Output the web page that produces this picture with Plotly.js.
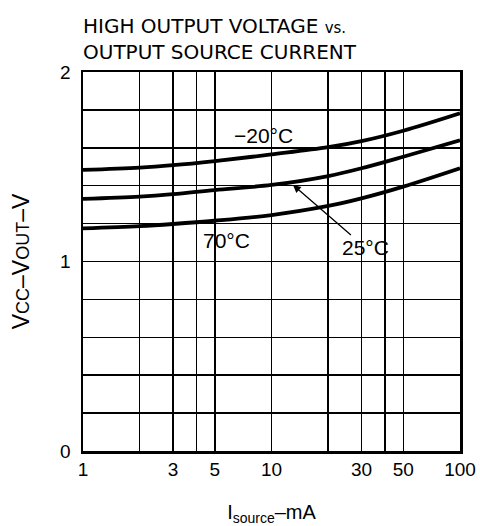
<!DOCTYPE html>
<html>
<head>
<meta charset="utf-8">
<script src="https://cdn.plot.ly/plotly-3.0.1.min.js"></script>
<style>html,body{margin:0;padding:0;background:#fff;}#chart{width:480px;height:526px;}</style>
</head>
<body>
<div id="chart"></div>
<script>
// Source current (mA)
const current = [1, 2, 3, 5, 10, 20, 30, 50, 100];
// VCC - VOUT (V) per temperature
const vMinus20 = [1.483, 1.495, 1.508, 1.530, 1.565, 1.603, 1.635, 1.69, 1.782];
const v25 = [1.330, 1.342, 1.355, 1.377, 1.404, 1.451, 1.492, 1.553, 1.64];
const v70 = [1.175, 1.187, 1.198, 1.215, 1.245, 1.293, 1.333, 1.395, 1.492];
const seriesNames = ['−20°C', '25°C', '70°C'];

const xTickVals = [1, 2, 3, 4, 5, 10, 20, 30, 40, 50, 100];
const xTickText = ['1', '', '3', '', '5', '10', '', '30', '', '50', '100'];
const yTickVals = [0, 0.2, 0.4, 0.6, 0.8, 1, 1.2, 1.4, 1.6, 1.8, 2];
const yTickText = ['0', '', '', '', '', '1', '', '', '', '', '2'];

const FONT = 'Liberation Sans, Arial, Helvetica, sans-serif';
const TFONT = 'DejaVu Sans, Liberation Sans, sans-serif';
const line = {color: '#000', width: 3.8, shape: 'spline', smoothing: 1};

const traces = [vMinus20, v25, v70].map((v, i) => ({
  x: current, y: v, name: seriesNames[i], mode: 'lines', line: line, hoverinfo: 'skip'
}));

const layout = {
  width: 480, height: 526,
  margin: {l: 83, r: 20, t: 72, b: 75},
  paper_bgcolor: '#fff', plot_bgcolor: '#fff',
  showlegend: false,
  font: {family: FONT, color: '#000', size: 17},
  title: {
    text: 'HIGH OUTPUT VOLTAGE <span style="font-size:15px">vs.</span><br>OUTPUT SOURCE CURRENT',
    x: 83 / 480, xanchor: 'left', xref: 'container',
    y: 1 - 33 / 526, yanchor: 'middle', yref: 'container',
    font: {family: TFONT, size: 20, color: '#000'}
  },
  xaxis: {
    type: 'log', range: [0, 2],
    tickmode: 'array', tickvals: xTickVals, ticktext: xTickText,
    showgrid: true, gridcolor: '#000', gridwidth: 1.5,
    showline: true, linecolor: '#000', linewidth: 2.5, mirror: true,
    ticks: '', zeroline: false,
    tickfont: {size: 19},
    title: {text: 'I<sub>source</sub>–mA', font: {size: 20}, standoff: 30}
  },
  yaxis: {
    range: [0, 2],
    tickmode: 'array', tickvals: yTickVals, ticktext: yTickText,
    showgrid: true, gridcolor: '#000', gridwidth: 1.5,
    showline: true, linecolor: '#000', linewidth: 2.5, mirror: true,
    ticks: '', zeroline: false,
    ticklabelstandoff: 6,
    tickfont: {size: 19},
    title: {text: 'V<span style="font-size:18px">CC</span>–V<span style="font-size:18px">OUT</span>–V', font: {size: 23}, standoff: 24}
  },
  annotations: [
    {x: Math.log10(9.05), y: 1.667, xref: 'x', yref: 'y', text: '−20°C', showarrow: false,
     font: {size: 21}},
    {x: Math.log10(5.77), y: 1.113, xref: 'x', yref: 'y', text: '70°C', showarrow: false,
     font: {size: 21}},
    {x: Math.log10(13), y: 1.404, xref: 'x', yref: 'y', text: '25°C', showarrow: true,
     ax: 73, ay: 63, arrowhead: 2, arrowsize: 1.2, arrowwidth: 1.3, arrowcolor: '#000',
     font: {size: 21}}
  ]
};

Plotly.newPlot('chart', traces, layout, {staticPlot: true, displayModeBar: false});
</script>
</body>
</html>
